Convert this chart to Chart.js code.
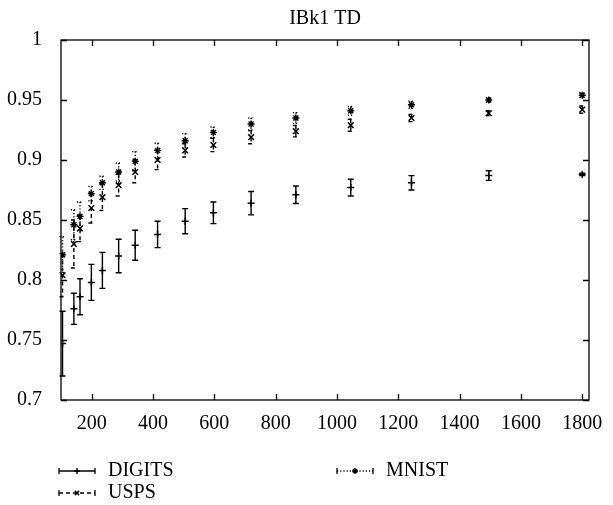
<!DOCTYPE html>
<html>
<head>
<meta charset="utf-8">
<script src="https://cdn.jsdelivr.net/npm/chart.js@4/dist/chart.umd.min.js"></script>
<style>
  html, body { margin: 0; padding: 0; background: #fff; }
</style>
</head>
<body>
<canvas id="c" width="613" height="505"></canvas>
<script>
// training set sizes (x)
const sizes = [105, 142, 162, 199, 235, 288, 342, 415, 505, 597, 720, 866, 1045, 1243, 1495, 1800];

const digitsMean = [0.747, 0.776, 0.786, 0.798, 0.808, 0.820, 0.829, 0.838, 0.849, 0.856, 0.864, 0.871, 0.877, 0.881, 0.887, 0.888];
const digitsErr  = [0.027, 0.013, 0.015, 0.015, 0.015, 0.014, 0.0125, 0.011, 0.0105, 0.009, 0.0097, 0.0073, 0.007, 0.006, 0.004, 0.001];

const uspsMean = [0.804, 0.830, 0.843, 0.860, 0.869, 0.879, 0.890, 0.900, 0.908, 0.9125, 0.919, 0.924, 0.929, 0.935, 0.939, 0.942];
const uspsErr  = [0.018, 0.020, 0.011, 0.0125, 0.011, 0.009, 0.009, 0.008, 0.0055, 0.0055, 0.0055, 0.0047, 0.005, 0.003, 0.002, 0.003];

const mnistMean = [0.821, 0.846, 0.853, 0.872, 0.881, 0.890, 0.899, 0.908, 0.916, 0.923, 0.930, 0.935, 0.941, 0.946, 0.950, 0.954];
const mnistErr  = [0.015, 0.0125, 0.012, 0.006, 0.0055, 0.0075, 0.008, 0.006, 0.006, 0.0045, 0.005, 0.0045, 0.0036, 0.003, 0.002, 0.002];

const xTicks = [200, 400, 600, 800, 1000, 1200, 1400, 1600, 1800];
const yTicks = [0.7, 0.75, 0.8, 0.85, 0.9, 0.95, 1];
const yTickLabels = ['0.7', '0.75', '0.8', '0.85', '0.9', '0.95', '1'];

const FONT = 'Liberation Serif';

const toPts = (means) => sizes.map((s, i) => ({ x: s, y: means[i] }));

// error bars, drawn with the chart scales
const errorBars = {
  id: 'errorBars',
  beforeDatasetsDraw(chart) {
    const { ctx, scales: { x, y } } = chart;
    chart.data.datasets.forEach((ds) => {
      ctx.save();
      ctx.strokeStyle = '#000';
      ctx.lineWidth = 1.4;
      ctx.setLineDash(ds.errDash);
      ds.data.forEach((p, i) => {
        const e = ds.errors[i];
        const px = x.getPixelForValue(p.x);
        const top = y.getPixelForValue(p.y + e);
        const bot = y.getPixelForValue(p.y - e);
        ctx.beginPath();
        ctx.moveTo(px, top); ctx.lineTo(px, bot);
        ctx.moveTo(px - 3, top); ctx.lineTo(px + 3, top);
        ctx.moveTo(px - 3, bot); ctx.lineTo(px + 3, bot);
        ctx.stroke();
      });
      ctx.restore();
    });
  }
};

// box round the plot with inward ticks on all four sides
const frame = {
  id: 'frame',
  afterDatasetsDraw(chart) {
    const { ctx, chartArea: a, scales: { x, y } } = chart;
    const L = 6;
    ctx.save();
    ctx.strokeStyle = '#000';
    ctx.lineWidth = 1.3;
    ctx.setLineDash([]);
    ctx.strokeRect(a.left, a.top, a.right - a.left, a.bottom - a.top);
    ctx.beginPath();
    x.ticks.forEach(t => {
      const px = Math.round(x.getPixelForValue(t.value)) + 0.5;
      ctx.moveTo(px, a.bottom); ctx.lineTo(px, a.bottom - L);
      ctx.moveTo(px, a.top); ctx.lineTo(px, a.top + L);
    });
    y.ticks.forEach(t => {
      const py = Math.round(y.getPixelForValue(t.value)) + 0.5;
      ctx.moveTo(a.left, py); ctx.lineTo(a.left + L, py);
      ctx.moveTo(a.right, py); ctx.lineTo(a.right - L, py);
    });
    ctx.stroke();
    ctx.restore();
  }
};

// two-column legend under the axis (DIGITS, USPS | MNIST)
const bottomLegend = {
  id: 'bottomLegend',
  afterDraw(chart) {
    const { ctx } = chart;
    const slots = [[59, 471], [59, 493], [337, 471]];
    chart.data.datasets.forEach((ds, i) => {
      const [x0, y0] = slots[i];
      const w = 36;
      ctx.save();
      ctx.strokeStyle = '#000';
      ctx.lineWidth = 1.3;
      ctx.setLineDash(ds.errDash);
      ctx.beginPath();
      ctx.moveTo(x0, y0); ctx.lineTo(x0 + w, y0);
      ctx.stroke();
      ctx.setLineDash([]);
      ctx.beginPath();
      ctx.moveTo(x0, y0 - 3); ctx.lineTo(x0, y0 + 3);
      ctx.moveTo(x0 + w, y0 - 3); ctx.lineTo(x0 + w, y0 + 3);
      ctx.stroke();
      ctx.lineWidth = ds.borderWidth;
      Chart.helpers.drawPoint(ctx, { pointStyle: ds.pointStyle, radius: 3, borderWidth: ds.borderWidth, rotation: 0 }, x0 + w / 2, y0);
      ctx.fillStyle = '#000';
      ctx.font = '20px "' + FONT + '"';
      ctx.textBaseline = 'middle';
      ctx.textAlign = 'left';
      ctx.fillText(ds.label, x0 + w + 13, y0);
      ctx.restore();
    });
  }
};

new Chart(document.getElementById('c'), {
  type: 'scatter',
  data: {
    datasets: [
      { label: 'DIGITS', data: toPts(digitsMean), errors: digitsErr, errDash: [],
        pointStyle: 'cross', pointRadius: 3.5, borderWidth: 1.5, borderColor: '#000', backgroundColor: '#000' },
      { label: 'USPS', data: toPts(uspsMean), errors: uspsErr, errDash: [4, 3],
        pointStyle: 'crossRot', pointRadius: 4, borderWidth: 1.5, borderColor: '#000', backgroundColor: '#000' },
      { label: 'MNIST', data: toPts(mnistMean), errors: mnistErr, errDash: [1.2, 2],
        pointStyle: 'star', pointRadius: 3.5, borderWidth: 1.4, borderColor: '#000', backgroundColor: '#000' }
    ]
  },
  options: {
    responsive: false,
    animation: false,
    devicePixelRatio: 1,
    layout: { padding: { left: 0, right: 24, top: 0, bottom: 75 } },
    plugins: {
      legend: { display: false },
      tooltip: { enabled: false },
      title: {
        display: true,
        text: 'IBk1 TD',
        color: '#000',
        fullSize: false,
        font: { family: FONT, size: 20, weight: 'normal' },
        padding: { top: 7, bottom: 9 }
      }
    },
    scales: {
      x: {
        type: 'linear',
        min: 100,
        max: 1822,
        grid: { display: false },
        border: { display: false },
        afterBuildTicks: (s) => { s.ticks = xTicks.map(v => ({ value: v })); },
        afterFit: (s) => { s.height = 30; },
        ticks: { color: '#000', padding: 4, maxRotation: 0, font: { family: FONT, size: 20 },
                 callback: (v) => String(v) }
      },
      y: {
        type: 'linear',
        min: 0.7,
        max: 1,
        grid: { display: false },
        border: { display: false },
        afterBuildTicks: (s) => { s.ticks = yTicks.map(v => ({ value: v })); },
        afterFit: (s) => { s.width = 61; },
        ticks: { color: '#000', padding: 11, font: { family: FONT, size: 20 },
                 callback: (v, i) => yTickLabels[i] }
      }
    }
  },
  plugins: [errorBars, frame, bottomLegend]
});
</script>
</body>
</html>
